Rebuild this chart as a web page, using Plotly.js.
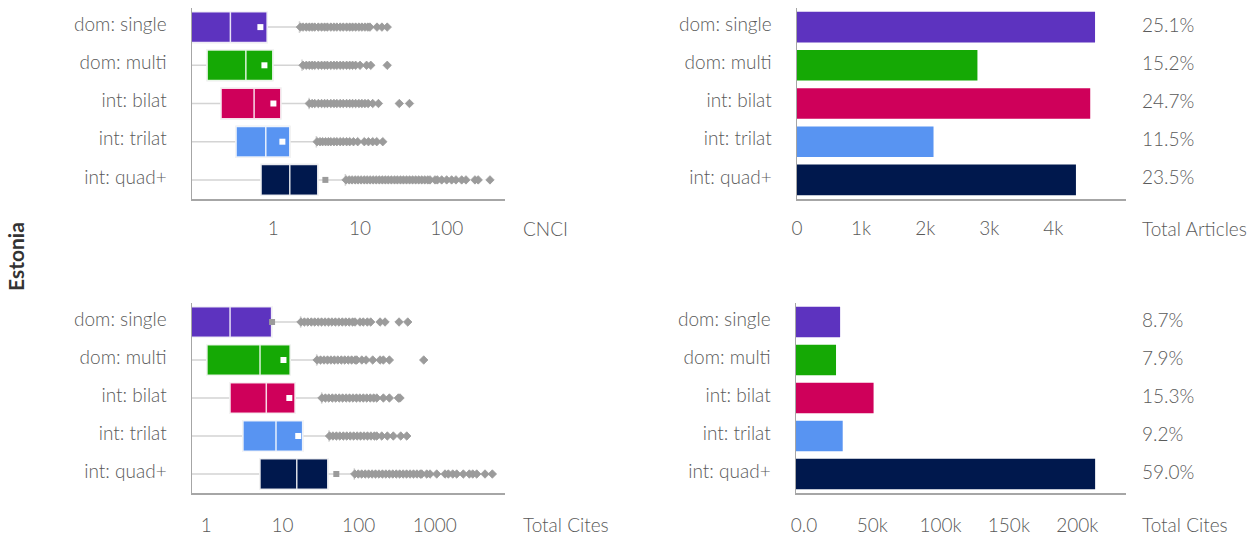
<!DOCTYPE html>
<html>
<head>
<meta charset="utf-8">
<script src="https://cdn.plot.ly/plotly-3.0.1.min.js"></script>
<style>html,body{margin:0;padding:0;background:#fff;}#chart{width:1254px;height:540px;}</style>
</head>
<body>
<div id="chart"></div>
<script>
// ---------- DATA ----------
const categories = ['dom: single', 'dom: multi', 'int: bilat', 'int: trilat', 'int: quad+'];
const colors = ['#5D33BF', '#15A905', '#CF005A', '#5894F2', '#00184D'];

// CNCI box statistics
const cnciLowerFence = [0.01, 0.01, 0.01, 0.01, 0.01];
const cnciQ1 = [0.1, 0.172, 0.249, 0.371, 0.721];
const cnciMedian = [0.319, 0.481, 0.599, 0.817, 1.546];
const cnciQ3 = [0.846, 0.984, 1.217, 1.546, 3.25];
const cnciMean = [0.708, 0.788, 1.0, 1.27, 3.98];
const cnciUpperFence = [2.0, 2.14, 2.58, 3.13, 6.77];
const cnciOutliersSingle = [2.05,2.2,2.4,2.6,2.8,3.0,3.3,3.6,3.9,4.2,4.6,5.0,5.4,5.9,6.4,7.0,7.6,8.2,8.9,9.7,10.5,11.4,12.3,13.0,15.7,17.9,20.6];
const cnciOutliersMulti = [2.2,2.4,2.6,2.8,3.0,3.3,3.6,3.9,4.2,4.6,5.0,5.4,5.9,6.4,7.0,7.6,8.2,8.9,10.0,11.9,13.3,20.6];
const cnciOutliersBilat = [2.6,2.8,3.0,3.3,3.6,3.9,4.2,4.6,5.0,5.4,5.9,6.4,7.0,7.6,8.2,8.9,9.7,10.5,11.4,12.4,14.0,16.3,28.4,37.2];
const cnciOutliersTrilat = [3.2,3.45,3.7,4.0,4.3,4.6,5.0,5.4,5.9,6.4,7.0,7.6,8.4,9.4,11.2,12.5,14.0,15.6,18.3];
const cnciOutliersQuad = [6.9,7.5,8.1,8.8,9.5,10.3,11.2,12.1,13.1,14.2,15.4,16.7,18.1,19.6,21.2,23,25,27,29.3,31.7,34.4,37.3,40.4,43.8,47.5,51.5,55.8,60.5,64.2,73.3,78,87.6,100,114,128,149,167,212,231,316];

// Total Cites box statistics
const citesLowerFence = [0.1, 0.1, 0.1, 0.1, 0.1];
const citesQ1 = [0.5, 1.02, 2.05, 3.03, 5.07];
const citesMedian = [2.05, 5.07, 6.13, 8.22, 15.4];
const citesQ3 = [7.2, 12.6, 14.6, 18.4, 39.3];
const citesMean = [7.3, 10.3, 12.3, 16.1, 50.9];
const citesUpperFence = [17.3, 28.1, 32.7, 40.8, 87.7];
const citesOutliersSingle = [17.5,19.4,21.5,23.9,26.5,29.4,32.6,36.2,40.2,44.6,49.5,55,61,67.7,75,83.3,89.6,104,115,130,144,191,222,339,441];
const citesOutliersMulti = [28.5,31.6,35.1,39,43.3,48,53.3,59.2,65.7,72.9,80.9,89.8,94.4,110,125,153,191,211,253,715];
const citesOutliersBilat = [33,36.6,40.6,45.1,50,55.5,61.6,68.4,75.9,84.3,93.5,103.8,115.2,127.9,142,157.6,173,211,253,332,349];
const citesOutliersTrilat = [41.5,46,51,56.6,62.9,69.8,77.5,86,95.5,106,117.6,130.5,144.9,160.8,173,201,238,285,357,428];
const citesOutliersQuad = [89,98.8,109.7,121.8,135.2,150,166.5,184.8,205.1,227.7,252.7,280.5,311.4,345.6,383.6,425.8,472.7,524.7,582.4,646.5,673,783,865,1059,1361,1504,1718,1938,2366,2837,3144,3548,4558,5687];

// Totals (bar panels)
const totalArticles = [4650, 2815, 4575, 2130, 4352];
const articlesPct = ['25.1%', '15.2%', '24.7%', '11.5%', '23.5%'];
const totalCites = [32300, 29300, 56800, 34200, 219000];
const citesPct = ['8.7%', '7.9%', '15.3%', '9.2%', '59.0%'];

// Tick labels
const cnciTickVals = [1, 10, 100];
const cnciTickText = ['1', '10', '100'];
const citesLogTickVals = [1, 10, 100, 1000];
const citesLogTickText = ['1', '10', '100', '1000'];
const articlesTickVals = [0, 1000, 2000, 3000, 4000];
const articlesTickText = ['0', '1k', '2k', '3k', '4k'];
const citesTickVals = [0, 50000, 100000, 150000, 200000];
const citesTickText = ['0.0', '50k', '100k', '150k', '200k'];

// ---------- BUILD ----------
const W = 1254, H = 540;
const px = v => v / W;
const py = v => 1 - v / H;
const TEXT = '#5a5a5a';
const AXIS = '#a6a6a6';
const WHISK = '#d4d4d4';
const OUT = '#9b9b9b';
const FS = 19;

const traces = [];

function boxPanel(xa, ya, lf, q1, med, q3, uf, mean, outs) {
  categories.forEach((c, i) => {
    // whiskers (gray)
    traces.push({
      type: 'box', orientation: 'h', xaxis: xa, yaxis: ya,
      y: [c], q1: [q1[i]], median: [med[i]], q3: [q3[i]],
      lowerfence: [lf[i]], upperfence: [uf[i]],
      fillcolor: colors[i], line: {color: WHISK, width: 1.5},
      whiskerwidth: 0.38, width: 0.8, boxpoints: false,
      hoverinfo: 'skip', showlegend: false
    });
    // solid box with white median
    traces.push({
      type: 'box', orientation: 'h', xaxis: xa, yaxis: ya,
      y: [c], q1: [q1[i]], median: [med[i]], q3: [q3[i]],
      lowerfence: [q1[i]], upperfence: [q3[i]],
      fillcolor: colors[i], line: {color: 'rgba(255,255,255,0.85)', width: 1.5},
      whiskerwidth: 0, width: 0.8, boxpoints: false,
      hoverinfo: 'skip', showlegend: false
    });
  });
  const ox = [], oy = [];
  outs.forEach((arr, i) => arr.forEach(v => { ox.push(v); oy.push(categories[i]); }));
  traces.push({
    type: 'scatter', mode: 'markers', xaxis: xa, yaxis: ya, x: ox, y: oy,
    marker: {symbol: 'diamond', size: 6.5, color: OUT, line: {width: 0.8, color: OUT}},
    hoverinfo: 'skip', showlegend: false
  });
  traces.push({
    type: 'scatter', mode: 'markers', xaxis: xa, yaxis: ya, x: mean, y: categories,
    marker: {symbol: 'square', size: 6, color: mean.map((m, i) => m > q3[i] ? OUT : '#ffffff'), line: {width: 0}},
    hoverinfo: 'skip', showlegend: false
  });
}

boxPanel('x', 'y', cnciLowerFence, cnciQ1, cnciMedian, cnciQ3, cnciUpperFence, cnciMean,
  [cnciOutliersSingle, cnciOutliersMulti, cnciOutliersBilat, cnciOutliersTrilat, cnciOutliersQuad]);
boxPanel('x2', 'y2', citesLowerFence, citesQ1, citesMedian, citesQ3, citesUpperFence, citesMean,
  [citesOutliersSingle, citesOutliersMulti, citesOutliersBilat, citesOutliersTrilat, citesOutliersQuad]);

traces.push({type: 'bar', orientation: 'h', xaxis: 'x3', yaxis: 'y3', x: totalArticles, y: categories,
  marker: {color: colors}, width: 0.8, hoverinfo: 'skip', showlegend: false});
traces.push({type: 'bar', orientation: 'h', xaxis: 'x4', yaxis: 'y4', x: totalCites, y: categories,
  marker: {color: colors}, width: 0.8, hoverinfo: 'skip', showlegend: false});

const xCommon = {showline: true, linecolor: AXIS, linewidth: 1.5, showgrid: false, zeroline: false,
  ticks: 'outside', ticklen: 12, tickcolor: 'rgba(0,0,0,0)', tickfont: {size: FS, color: TEXT}};
const yCommon = {type: 'category', categoryorder: 'array', categoryarray: categories, range: [4.5, -0.5],
  showline: true, linecolor: AXIS, linewidth: 1.5, showgrid: false, zeroline: false,
  ticks: 'outside', ticklen: 20, tickcolor: 'rgba(0,0,0,0)', tickfont: {size: FS, color: TEXT}, ticklabelshift: 3};

const annotations = [];
function note(text, x, y) {
  annotations.push({text: text, xref: 'paper', yref: 'paper', x: px(x), y: py(y),
    xanchor: 'left', yanchor: 'middle', showarrow: false, font: {size: FS, color: TEXT}});
}
note('CNCI', 521, 228);
note('Total Articles', 1140, 228);
note('Total Cites', 521, 524);
note('Total Cites', 1140, 524);
articlesPct.forEach((t, i) => annotations.push({text: t, xref: 'paper', yref: 'y3', x: px(1140), y: categories[i],
  xanchor: 'left', yanchor: 'middle', yshift: 3, showarrow: false, font: {size: FS, color: TEXT}}));
citesPct.forEach((t, i) => annotations.push({text: t, xref: 'paper', yref: 'y4', x: px(1140), y: categories[i],
  xanchor: 'left', yanchor: 'middle', yshift: 3, showarrow: false, font: {size: FS, color: TEXT}}));
annotations.push({text: '<b>Estonia</b>', xref: 'paper', yref: 'paper', x: px(16), y: py(257),
  xanchor: 'center', yanchor: 'middle', textangle: -90, showarrow: false,
  font: {family: 'Lato, sans-serif', size: 21, color: '#333333', weight: 700}});

const layout = {
  width: W, height: H,
  margin: {l: 0, r: 0, t: 0, b: 0},
  paper_bgcolor: '#ffffff', plot_bgcolor: '#ffffff',
  font: {family: 'Lato, sans-serif', size: FS, color: TEXT, weight: 300},
  boxmode: 'overlay', barmode: 'overlay',
  showlegend: false,
  xaxis: Object.assign({}, xCommon, {type: 'log', domain: [px(192), px(505)], anchor: 'y',
    range: [Math.log10(0.115), Math.log10(471)], tickmode: 'array', tickvals: cnciTickVals, ticktext: cnciTickText}),
  yaxis: Object.assign({}, yCommon, {domain: [py(199), py(8)], anchor: 'x'}),
  xaxis2: Object.assign({}, xCommon, {type: 'log', domain: [px(192), px(505)], anchor: 'y2', ticklen: 15,
    range: [Math.log10(0.649), Math.log10(8340)], tickmode: 'array', tickvals: citesLogTickVals, ticktext: citesLogTickText}),
  yaxis2: Object.assign({}, yCommon, {domain: [py(493), py(303)], anchor: 'x2'}),
  xaxis3: Object.assign({}, xCommon, {domain: [px(797), px(1126)], anchor: 'y3',
    range: [0, 5133], tickmode: 'array', tickvals: articlesTickVals, ticktext: articlesTickText}),
  yaxis3: Object.assign({}, yCommon, {domain: [py(199), py(8)], anchor: 'x3'}),
  xaxis4: Object.assign({}, xCommon, {domain: [px(796), px(1126)], anchor: 'y4', ticklen: 15,
    range: [0, 241600], tickmode: 'array', tickvals: citesTickVals, ticktext: citesTickText, ticklabelshift: 8}),
  yaxis4: Object.assign({}, yCommon, {domain: [py(493), py(303)], anchor: 'x4'}),
  annotations: annotations
};

Plotly.newPlot('chart', traces, layout, {staticPlot: true, displayModeBar: false});
</script>
</body>
</html>
